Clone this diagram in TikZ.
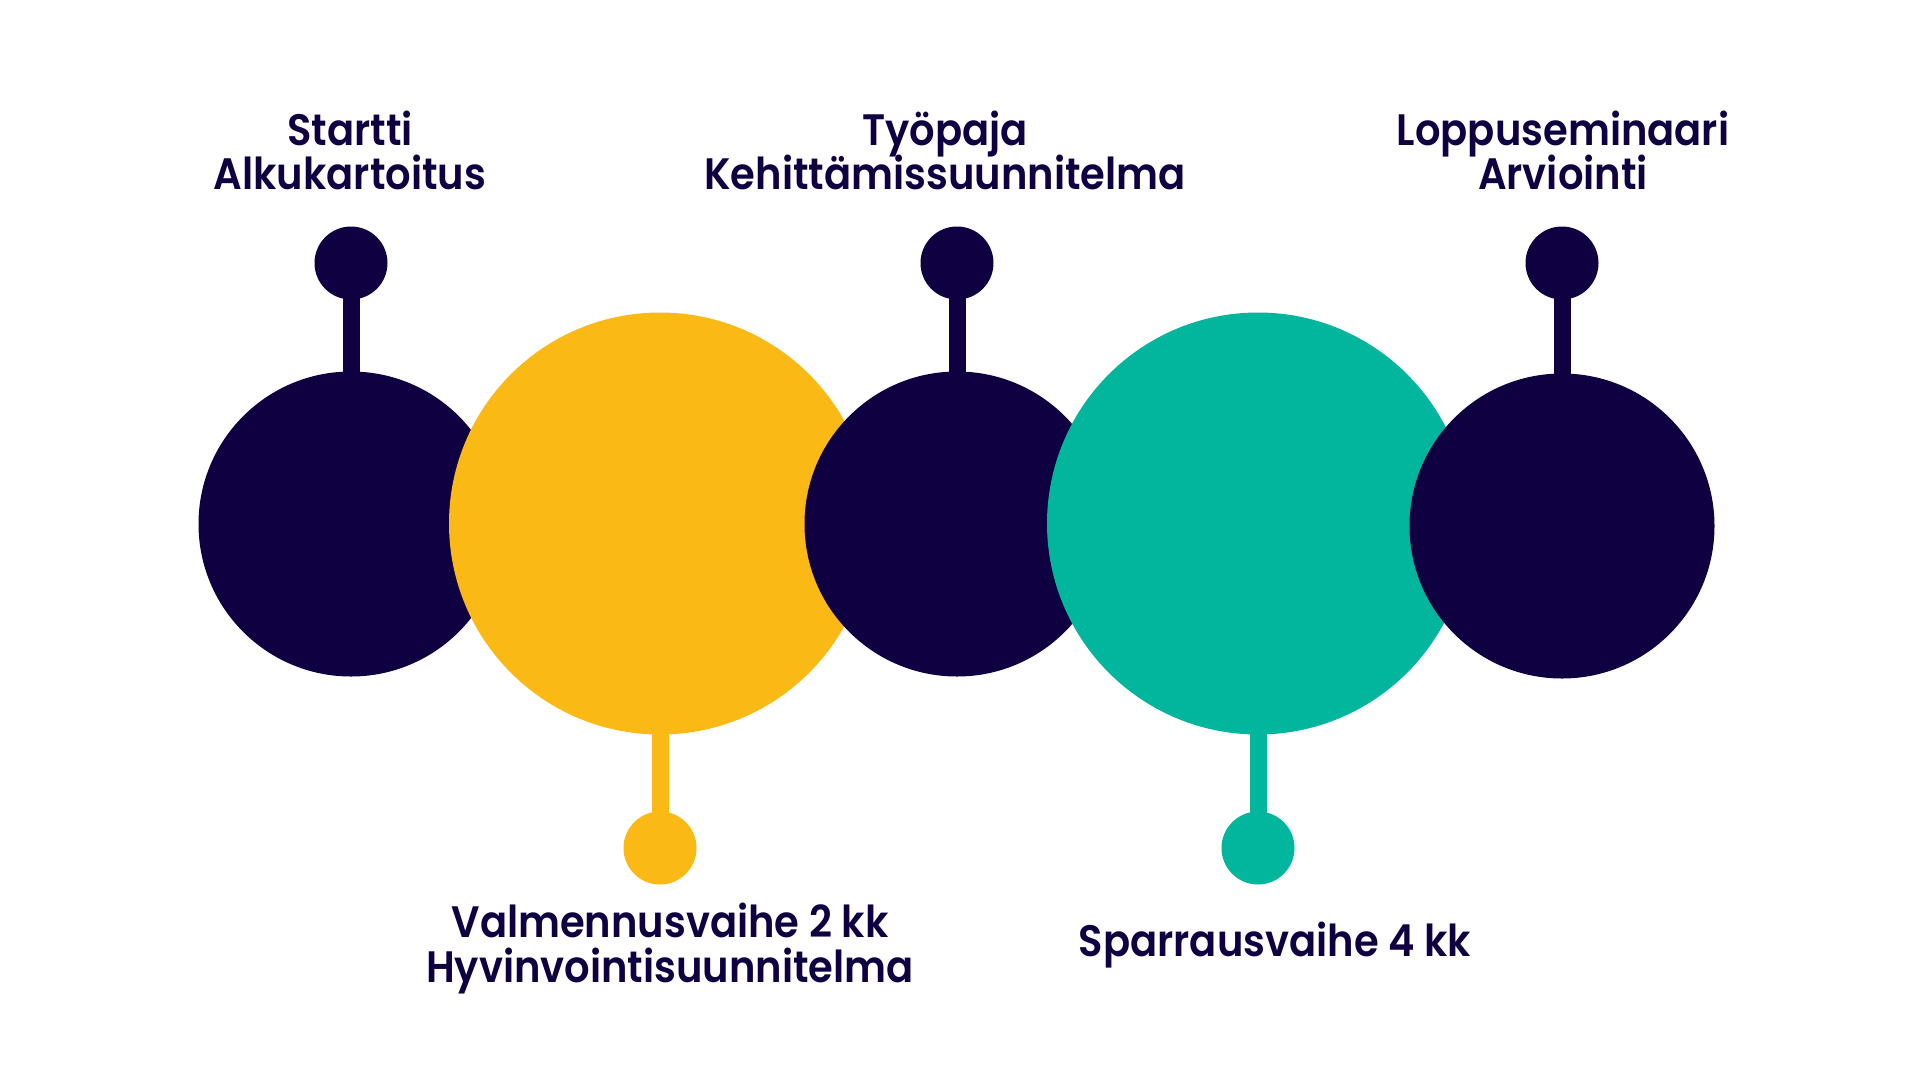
\documentclass[tikz,border=0pt]{standalone}
\usepackage{fontspec}
\setmainfont{Poppins}[UprightFont=* SemiBold,FakeStretch=0.91]
\definecolor{navy}{HTML}{0F0041}
\definecolor{gold}{HTML}{FBB916}
\definecolor{teal}{HTML}{02B59D}
\begin{document}
\begin{tikzpicture}[x=1pt,y=-1pt,
  big/.style={circle,inner sep=0pt,minimum size=305pt,fill=navy},
  huge/.style={circle,inner sep=0pt,minimum size=422pt},
  dot/.style={circle,inner sep=0pt,minimum size=73pt},
  stem/.style={line width=17pt},
  lab/.style={anchor=base,inner sep=0pt,text=navy,font=\fontsize{44}{44}\selectfont}]
\useasboundingbox (0,0) rectangle (1920,1080);
\fill[white] (0,0) rectangle (1920,1080);
% small dots
\node[dot,fill=navy] (t1) at (351,263) {};
\node[dot,fill=navy] (t2) at (957,263) {};
\node[dot,fill=navy] (t3) at (1562,263) {};
\node[dot,fill=gold] (b1) at (660,848) {};
\node[dot,fill=teal] (b2) at (1258,848) {};
% anchors of the big circles (coordinates first so stems lie below)
\coordinate (c1) at (351,524);
\coordinate (c2) at (957,524);
\coordinate (c3) at (1562,526);
\coordinate (y1) at (660,523.5);
\coordinate (g1) at (1258,523.5);
\draw[stem,navy] (t1.center) -- (c1);
\draw[stem,navy] (t2.center) -- (c2);
\draw[stem,navy] (t3.center) -- (c3);
\draw[stem,gold] (b1.center) -- (y1);
\draw[stem,teal] (b2.center) -- (g1);
% big circles, in stacking order
\node[big] (d1) at (c1) {};
\node[huge,fill=gold] (yc) at (y1) {};
\node[big] (d2) at (c2) {};
\node[huge,fill=teal] (tc) at (g1) {};
\node[big] (d3) at (c3) {};
% labels
\node[lab] (l1a) at (350,145) {Startti};
\node[lab] (l1b) at (350,189) {Alkukartoitus};
\node[lab] (l2a) at (945,145) {Työpaja};
\node[lab] (l2b) at (945,189) {Kehittämissuunnitelma};
\node[lab] (l3a) at (1563,145) {Loppuseminaari};
\node[lab] (l3b) at (1563,189) {Arviointi};
\node[lab] (l4a) at (670,937) {Valmennusvaihe 2 kk};
\node[lab] (l4b) at (670,982) {Hyvinvointisuunnitelma};
\node[lab] (l5a) at (1275,956) {Sparrausvaihe 4 kk};
\end{tikzpicture}
\end{document}
